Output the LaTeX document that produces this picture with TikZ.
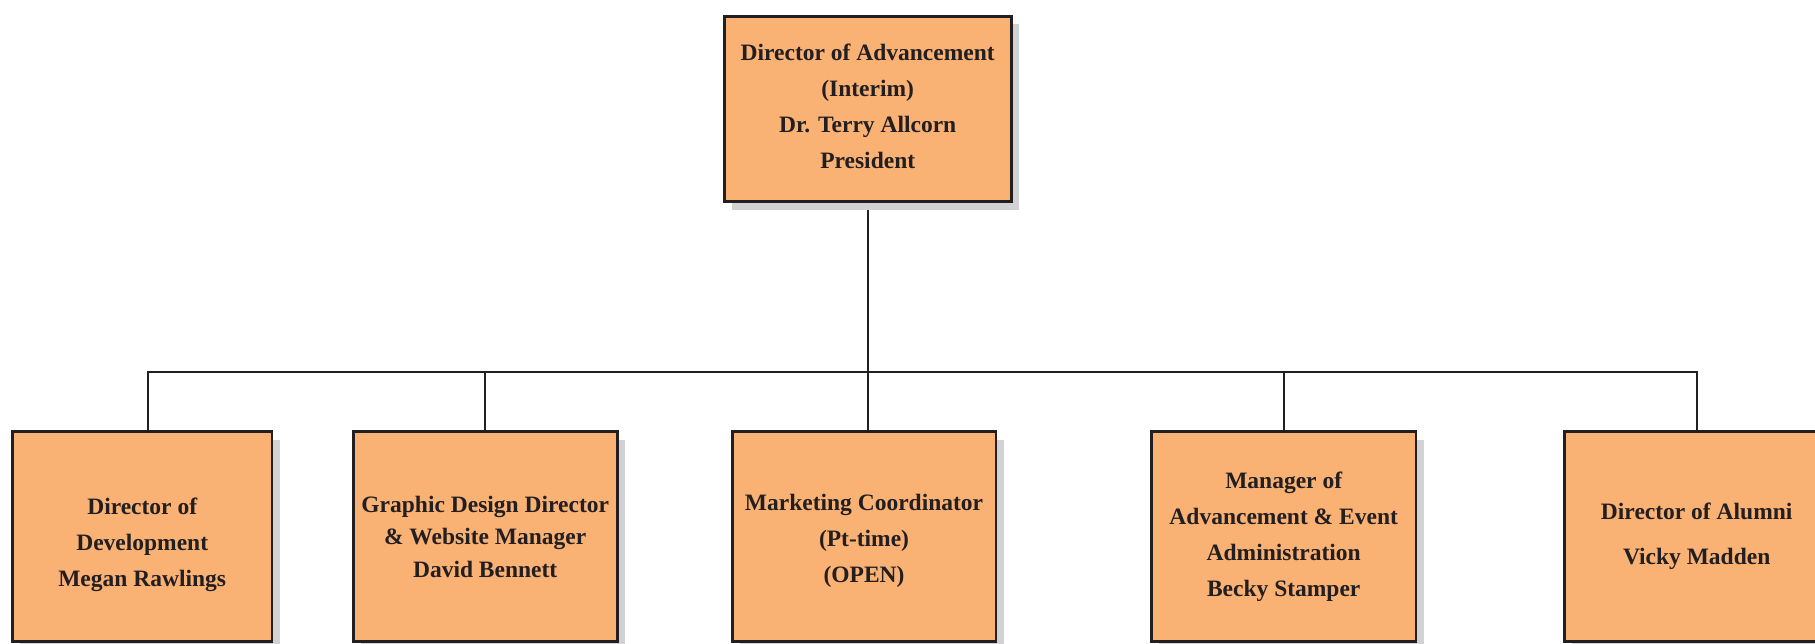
\documentclass[tikz,border=0pt]{standalone}
\usepackage{fontspec}
\setmainfont{Liberation Serif}
\usetikzlibrary{shadows,backgrounds}
\definecolor{boxfill}{RGB}{249,177,116}
\definecolor{shadowgray}{RGB}{209,210,212}
\definecolor{ink}{RGB}{35,31,32}
\tikzset{
  orgbox/.style={draw=ink, line width=2.8pt, fill=boxfill, text=ink,
    font=\bfseries\fontsize{23.5}{36}\selectfont, align=center, inner sep=0pt,
    general shadow={fill=shadowgray, shadow xshift=8pt, shadow yshift=-8pt}},
  lowbox/.style={orgbox, minimum height=210pt},
  conn/.style={draw=ink, line width=2.2pt}
}
\begin{document}
\begin{tikzpicture}[x=1pt,y=-1pt]
\clip (0,0) rectangle (1815,644);
\node[orgbox, minimum width=287pt, minimum height=185.5pt] (top) at (867.7,108.9)
  {Director of Advancement\\(Interim)\\Dr. Terry Allcorn\\President\rule[-6pt]{0pt}{0pt}};
\node[lowbox, minimum width=259.5pt] (b1) at (142.2,536.5)
  {\rule{0pt}{33pt}Director of\\Development\\Megan Rawlings};
\node[lowbox, minimum width=264.2pt, font=\bfseries\fontsize{23.5}{32.5}\selectfont] (b2) at (485.2,536.5)
  {Graphic Design Director\\\& Website Manager\\David Bennett};
\node[lowbox, minimum width=263.8pt] (b3) at (864,536.5)
  {\rule{0pt}{25pt}Marketing Coordinator\\(Pt-time)\\(OPEN)};
\node[lowbox, minimum width=264.5pt] (b4) at (1283.7,536.5)
  {Manager of\\Advancement \& Event\\Administration\\Becky Stamper};
\node[lowbox, minimum width=265pt, font=\bfseries\fontsize{23.5}{45}\selectfont] (b5) at (1696.7,536.5)
  {Director of Alumni\\Vicky Madden};
\coordinate (bus) at (867.7,371.7);
\begin{pgfonlayer}{background}
\draw[conn] (top.south) -- (top.south |- bus);
\draw[conn] ([xshift=6pt]b1.north) |- (b5.north |- bus) -- (b5.north);
\draw[conn] (b2.north) -- (b2.north |- bus);
\draw[conn] (top.south |- bus) -- (top.south |- b3.north);
\draw[conn] (b4.north) -- (b4.north |- bus);
\end{pgfonlayer}
\end{tikzpicture}
\end{document}
